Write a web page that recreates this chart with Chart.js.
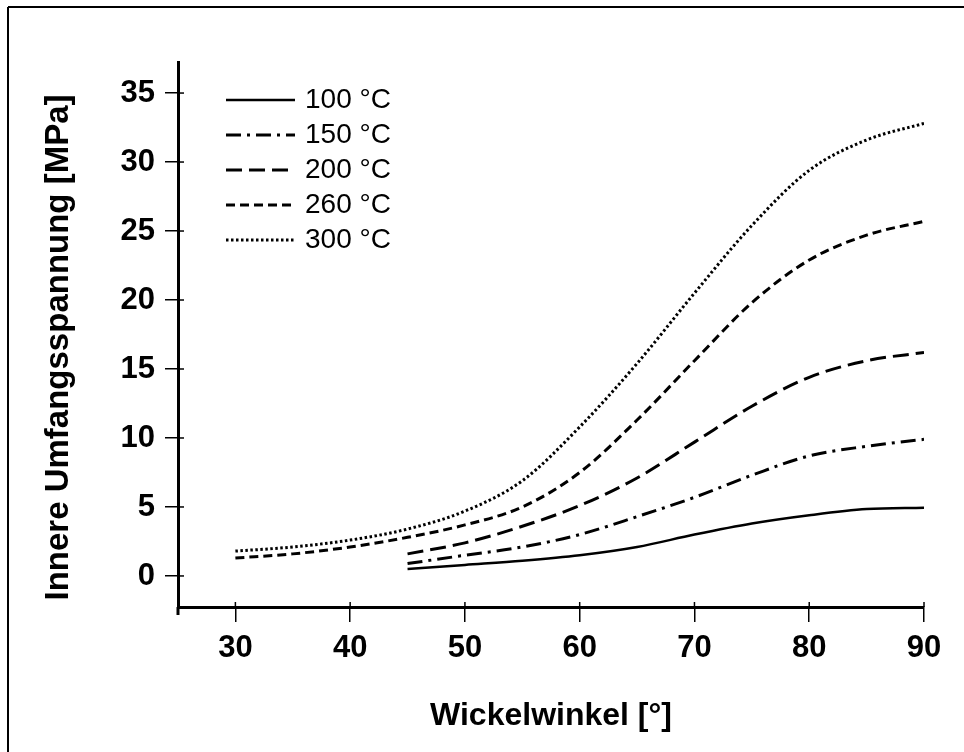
<!DOCTYPE html>
<html>
<head>
<meta charset="utf-8">
<script src="https://cdn.jsdelivr.net/npm/chart.js@4/dist/chart.umd.min.js"></script>
<style>
    html, body { margin: 0; padding: 0; background: #fff; }
    canvas { display: block; }
</style>
</head>
<body>
<canvas id="stressChart" width="964" height="752"></canvas>
<script>
    // Wickelwinkel [°]
    var anglesFull = [30, 35, 40, 45, 50, 55, 60, 65, 70, 75, 80, 85, 90];
    var anglesShort = [45, 50, 55, 60, 65, 70, 75, 80, 85, 90];

    // Innere Umfangsspannung [MPa]
    var stress100 = [0.5, 0.8, 1.1, 1.5, 2.1, 3.0, 3.8, 4.4, 4.85, 4.95];
    var stress150 = [0.9, 1.5, 2.1, 3.0, 4.3, 5.7, 7.3, 8.7, 9.4, 9.9];
    var stress200 = [1.6, 2.4, 3.6, 5.1, 7.1, 9.7, 12.3, 14.4, 15.6, 16.2];
    var stress260 = [1.3, 1.6, 2.1, 2.8, 3.7, 5.0, 7.5, 11.3, 15.6, 19.8, 22.9, 24.7, 25.7];
    var stress300 = [1.8, 2.1, 2.6, 3.4, 4.7, 6.9, 10.8, 15.4, 20.5, 25.4, 29.4, 31.6, 32.8];

    var xTicks = [30, 40, 50, 60, 70, 80, 90];
    var yTicks = [0, 5, 10, 15, 20, 25, 30, 35];
    var yTitle = 'Innere Umfangsspannung [MPa]';

    function toPoints(xs, ys) {
        return xs.map(function (x, i) { return { x: x, y: ys[i] }; });
    }

    var fontFamily = '"Liberation Sans", Arial, Helvetica, sans-serif';

    // legend drawn inside the plot, line sample + label
    var lineLegend = {
        id: 'lineLegend',
        afterDatasetsDraw: function (chart) {
            var ctx = chart.ctx;
            var a = chart.chartArea;
            ctx.save();
            chart.data.datasets.forEach(function (ds, i) {
                var y = a.top + 38 + i * 35;
                ctx.strokeStyle = '#000';
                ctx.lineWidth = ds.borderWidth;
                ctx.setLineDash(ds.borderDash || []);
                ctx.beginPath();
                ctx.moveTo(a.left + 48, y);
                ctx.lineTo(a.left + 117, y);
                ctx.stroke();
                ctx.setLineDash([]);
                ctx.fillStyle = '#000';
                ctx.font = '28px ' + fontFamily;
                ctx.textBaseline = 'middle';
                ctx.fillText(ds.label, a.left + 127, y);
            });
            ctx.restore();
        }
    };

    // inner tick stubs, axis overhang, y title and frame
    var axisExtras = {
        id: 'axisExtras',
        afterDraw: function (chart) {
            var ctx = chart.ctx;
            var a = chart.chartArea;
            var xs = chart.scales.x, ys = chart.scales.y;
            function line(x1, y1, x2, y2) {
                ctx.beginPath();
                ctx.moveTo(x1, y1);
                ctx.lineTo(x2, y2);
                ctx.stroke();
            }
            ctx.save();
            ctx.strokeStyle = '#000';
            ctx.lineWidth = 1.5;
            xTicks.forEach(function (v) {
                var px = xs.getPixelForValue(v);
                line(px, a.bottom, px, a.bottom - 5);
            });
            yTicks.forEach(function (v) {
                var py = ys.getPixelForValue(v);
                line(a.left, py, a.left + 6, py);
            });
            ctx.lineWidth = 3;
            line(a.left, a.bottom, a.left, a.bottom + 8);
            ctx.lineWidth = 2;
            line(8, chart.height, 8, 7);
            line(8, 7, chart.width, 7);

            ctx.translate(59, (a.top + a.bottom) / 2 + 13);
            ctx.rotate(-Math.PI / 2);
            ctx.fillStyle = '#000';
            ctx.font = 'bold 33px ' + fontFamily;
            ctx.textAlign = 'center';
            ctx.textBaseline = 'middle';
            ctx.fillText(yTitle, 0, 0);
            ctx.restore();
        }
    };

    var ctx = document.getElementById('stressChart').getContext('2d');
    var stressChart = new Chart(ctx, {
        type: 'line',
        data: {
            datasets: [{
                label: '100 °C',
                data: toPoints(anglesShort, stress100),
                borderColor: '#000',
                borderWidth: 2.5,
                borderDash: []
            }, {
                label: '150 °C',
                data: toPoints(anglesShort, stress150),
                borderColor: '#000',
                borderWidth: 3,
                borderDash: [15, 6, 3, 6]
            }, {
                label: '200 °C',
                data: toPoints(anglesShort, stress200),
                borderColor: '#000',
                borderWidth: 3,
                borderDash: [16, 7]
            }, {
                label: '260 °C',
                data: toPoints(anglesFull, stress260),
                borderColor: '#000',
                borderWidth: 3,
                borderDash: [9, 5]
            }, {
                label: '300 °C',
                data: toPoints(anglesFull, stress300),
                borderColor: '#000',
                borderWidth: 3,
                borderDash: [2.5, 2.5]
            }]
        },
        options: {
            responsive: false,
            animation: false,
            devicePixelRatio: 1,
            layout: { padding: { left: 0, top: 62, right: 40, bottom: 0 } },
            elements: {
                point: { radius: 0 },
                line: { cubicInterpolationMode: 'monotone', fill: false }
            },
            plugins: {
                legend: { display: false },
                tooltip: { enabled: false }
            },
            scales: {
                x: {
                    type: 'linear',
                    min: 25,
                    max: 90,
                    afterBuildTicks: function (scale) {
                        scale.ticks = xTicks.map(function (v) { return { value: v }; });
                    },
                    afterFit: function (scale) { scale.height = 145; },
                    grid: { drawOnChartArea: false, drawTicks: true, tickLength: 15, color: '#000', lineWidth: 1.5 },
                    border: { display: true, color: '#000', width: 3 },
                    ticks: {
                        color: '#000',
                        padding: 8,
                        maxRotation: 0,
                        font: { family: fontFamily, size: 31, weight: 'bold' }
                    },
                    title: {
                        display: true,
                        text: 'Wickelwinkel [°]',
                        color: '#000',
                        padding: { top: 0, bottom: 17 },
                        font: { family: fontFamily, size: 32, weight: 'bold' }
                    }
                },
                y: {
                    type: 'linear',
                    min: -2.25,
                    max: 37.25,
                    afterBuildTicks: function (scale) {
                        scale.ticks = yTicks.map(function (v) { return { value: v }; });
                    },
                    afterFit: function (scale) { scale.width = 178; },
                    grid: { drawOnChartArea: false, drawTicks: true, tickLength: 13, color: '#000', lineWidth: 1.5 },
                    border: { display: true, color: '#000', width: 3 },
                    ticks: {
                        color: '#000',
                        padding: 10,
                        font: { family: fontFamily, size: 31, weight: 'bold' }
                    },
                    title: { display: false }
                }
            }
        },
        plugins: [lineLegend, axisExtras]
    });
</script>
</body>
</html>
